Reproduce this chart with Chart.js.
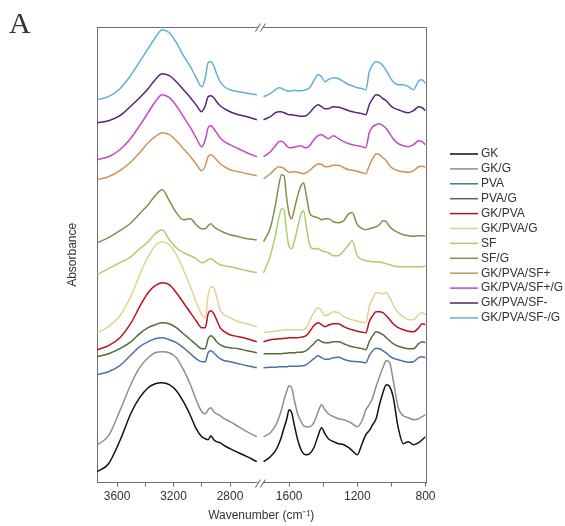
<!DOCTYPE html>
<html>
<head>
<meta charset="utf-8">
<script src="https://cdn.jsdelivr.net/npm/chart.js@4.4.1/dist/chart.umd.min.js"></script>
<style>
  html, body { margin: 0; padding: 0; background: #ffffff; }
  canvas { display: block; }
</style>
</head>
<body>
<canvas id="ftir" width="565" height="526"></canvas>
<script>
// Wavenumber grids (cm-1) for the two halves of the broken axis
const highWavenumbers = [3740, 3660, 3580, 3500, 3440, 3380, 3330, 3280, 3230, 3180, 3130, 3080, 3040, 3000, 2975, 2955, 2935, 2915, 2895, 2870, 2840, 2800, 2740, 2680, 2610];
const lowWavenumbers = [1750, 1710, 1680, 1660, 1645, 1630, 1615, 1600, 1585, 1570, 1550, 1530, 1515, 1500, 1480, 1455, 1430, 1410, 1390, 1370, 1340, 1310, 1280, 1250, 1230, 1200, 1170, 1150, 1130, 1110, 1090, 1070, 1050, 1030, 1010, 990, 960, 930, 900, 870, 840, 820, 800];

// Tick positions
const highTicks = [3600, 3400, 3200, 3000, 2800];
const lowTicks = [1600, 1400, 1200, 1000, 800];

// Sample names (legend order, bottom spectrum first)
const sampleNames = ['GK', 'GK/G', 'PVA', 'PVA/G', 'GK/PVA', 'GK/PVA/G', 'SF', 'SF/G', 'GK/PVA/SF+', 'GK/PVA/SF+/G', 'GK/PVA/SF-', 'GK/PVA/SF-/G'];

// Absorbance (offset-stacked, a.u.)
const gkHigh = [0.11,0.19,0.42,0.70,0.85,0.95,0.99,1.00,0.98,0.92,0.81,0.67,0.54,0.46,0.44,0.43,0.47,0.43,0.41,0.40,0.37,0.34,0.30,0.26,0.21];
const gkLow = [0.21,0.26,0.32,0.39,0.46,0.55,0.63,0.73,0.70,0.58,0.43,0.33,0.29,0.28,0.29,0.35,0.47,0.55,0.49,0.44,0.41,0.39,0.38,0.35,0.32,0.28,0.40,0.48,0.52,0.58,0.64,0.78,0.90,0.98,0.96,0.86,0.55,0.39,0.41,0.38,0.40,0.43,0.46];

const gkGHigh = [0.38,0.47,0.72,0.99,1.15,1.25,1.30,1.31,1.30,1.25,1.13,0.98,0.83,0.71,0.69,0.73,0.75,0.71,0.69,0.67,0.64,0.61,0.56,0.51,0.46];
const gkGLow = [0.46,0.50,0.57,0.65,0.73,0.83,0.91,0.97,0.95,0.83,0.69,0.61,0.57,0.56,0.56,0.60,0.71,0.78,0.73,0.69,0.66,0.64,0.63,0.61,0.59,0.56,0.63,0.73,0.78,0.85,0.96,1.06,1.15,1.22,1.20,1.03,0.75,0.67,0.65,0.63,0.64,0.66,0.68];

const pvaHigh = [1.08,1.11,1.17,1.28,1.36,1.41,1.44,1.45,1.43,1.40,1.35,1.29,1.24,1.21,1.21,1.30,1.32,1.30,1.27,1.24,1.22,1.21,1.19,1.17,1.15];
const pvaLow = [1.15,1.155,1.155,1.16,1.16,1.16,1.16,1.165,1.165,1.165,1.165,1.17,1.17,1.18,1.205,1.24,1.27,1.25,1.235,1.235,1.25,1.255,1.235,1.22,1.215,1.21,1.205,1.20,1.27,1.32,1.345,1.34,1.32,1.295,1.265,1.245,1.23,1.215,1.205,1.21,1.25,1.26,1.25];

const pvaGHigh = [1.26,1.29,1.34,1.41,1.49,1.55,1.58,1.60,1.59,1.55,1.49,1.43,1.38,1.34,1.34,1.44,1.47,1.45,1.41,1.38,1.36,1.35,1.34,1.32,1.30];
const pvaGLow = [1.29,1.29,1.29,1.29,1.29,1.295,1.295,1.30,1.30,1.30,1.305,1.305,1.31,1.32,1.35,1.39,1.43,1.41,1.40,1.40,1.41,1.41,1.39,1.37,1.36,1.35,1.34,1.33,1.41,1.47,1.51,1.50,1.48,1.45,1.42,1.39,1.365,1.35,1.34,1.34,1.39,1.41,1.40];

const gkPvaHigh = [1.33,1.37,1.45,1.60,1.76,1.90,1.97,2.00,1.98,1.90,1.80,1.70,1.62,1.55,1.55,1.69,1.72,1.69,1.63,1.55,1.51,1.48,1.46,1.44,1.41];
const gkPvaLow = [1.41,1.43,1.435,1.44,1.44,1.445,1.445,1.45,1.45,1.45,1.45,1.455,1.46,1.47,1.51,1.57,1.60,1.58,1.56,1.575,1.59,1.59,1.56,1.54,1.53,1.515,1.505,1.50,1.61,1.67,1.71,1.71,1.70,1.67,1.63,1.59,1.55,1.53,1.515,1.51,1.55,1.59,1.58];

const gkPvaGHigh = [1.50,1.56,1.67,1.87,2.08,2.26,2.37,2.41,2.38,2.28,2.13,1.96,1.81,1.68,1.65,1.87,1.96,1.95,1.86,1.73,1.68,1.65,1.61,1.59,1.56];
const gkPvaGLow = [1.50,1.51,1.515,1.52,1.525,1.53,1.53,1.53,1.53,1.53,1.53,1.53,1.53,1.55,1.62,1.70,1.75,1.72,1.67,1.68,1.71,1.70,1.66,1.64,1.63,1.615,1.605,1.60,1.76,1.84,1.90,1.90,1.89,1.90,1.85,1.78,1.70,1.66,1.63,1.63,1.68,1.70,1.68];

const sfHigh = [2.08,2.14,2.20,2.26,2.34,2.41,2.49,2.53,2.43,2.35,2.30,2.27,2.24,2.20,2.21,2.23,2.24,2.22,2.20,2.18,2.17,2.16,2.14,2.12,2.10];
const sfLow = [2.10,2.27,2.48,2.65,2.74,2.73,2.51,2.36,2.34,2.41,2.55,2.69,2.72,2.57,2.38,2.34,2.34,2.32,2.31,2.30,2.27,2.27,2.32,2.38,2.42,2.27,2.23,2.22,2.215,2.21,2.21,2.205,2.20,2.19,2.18,2.17,2.16,2.16,2.16,2.16,2.16,2.16,2.17];

const sfGHigh = [2.40,2.45,2.52,2.60,2.69,2.78,2.87,2.93,2.82,2.70,2.63,2.64,2.58,2.54,2.54,2.57,2.59,2.56,2.54,2.52,2.50,2.48,2.46,2.44,2.43];
const sfGLow = [2.41,2.55,2.78,2.98,3.08,3.07,2.85,2.69,2.64,2.73,2.87,2.97,3.00,2.88,2.70,2.66,2.65,2.63,2.64,2.64,2.61,2.60,2.62,2.69,2.70,2.58,2.54,2.53,2.54,2.55,2.56,2.58,2.62,2.61,2.56,2.53,2.50,2.48,2.47,2.465,2.47,2.47,2.47];

const sfPlusHigh = [3.03,3.06,3.12,3.21,3.30,3.40,3.46,3.50,3.48,3.42,3.34,3.26,3.19,3.12,3.17,3.26,3.28,3.26,3.23,3.19,3.16,3.13,3.11,3.09,3.07];
const sfPlusLow = [3.04,3.09,3.14,3.16,3.155,3.14,3.12,3.105,3.105,3.11,3.105,3.095,3.09,3.10,3.12,3.16,3.19,3.185,3.16,3.16,3.175,3.175,3.15,3.13,3.125,3.115,3.10,3.09,3.17,3.24,3.29,3.28,3.25,3.22,3.17,3.14,3.12,3.11,3.105,3.12,3.16,3.165,3.155];

const sfPlusGHigh = [3.23,3.26,3.33,3.45,3.57,3.70,3.81,3.88,3.85,3.77,3.66,3.55,3.45,3.36,3.43,3.55,3.57,3.54,3.50,3.45,3.41,3.38,3.34,3.30,3.26];
const sfPlusGLow = [3.26,3.31,3.37,3.41,3.415,3.40,3.37,3.35,3.35,3.355,3.365,3.37,3.355,3.35,3.37,3.43,3.47,3.48,3.46,3.44,3.47,3.44,3.41,3.39,3.38,3.37,3.36,3.35,3.50,3.56,3.58,3.59,3.57,3.54,3.49,3.44,3.39,3.37,3.36,3.38,3.42,3.41,3.38];

const sfMinusHigh = [3.60,3.62,3.67,3.77,3.85,3.94,4.03,4.09,4.07,4.01,3.93,3.85,3.78,3.71,3.77,3.86,3.87,3.85,3.81,3.77,3.74,3.71,3.68,3.66,3.63];
const sfMinusLow = [3.63,3.66,3.70,3.71,3.71,3.70,3.69,3.68,3.68,3.675,3.67,3.665,3.665,3.67,3.70,3.75,3.78,3.76,3.74,3.74,3.76,3.755,3.74,3.72,3.71,3.70,3.69,3.68,3.78,3.84,3.88,3.87,3.84,3.82,3.78,3.75,3.73,3.71,3.70,3.72,3.76,3.75,3.72];

const sfMinusGHigh = [3.83,3.86,3.94,4.08,4.21,4.34,4.45,4.53,4.50,4.40,4.27,4.16,4.05,3.96,4.05,4.20,4.21,4.17,4.09,4.01,3.96,3.93,3.91,3.895,3.88];
const sfMinusGLow = [3.86,3.89,3.93,3.95,3.945,3.93,3.92,3.915,3.92,3.925,3.92,3.92,3.925,3.93,3.95,4.02,4.08,4.06,4.01,4.03,4.05,4.04,4.01,3.98,3.97,3.95,3.94,3.93,4.11,4.18,4.21,4.20,4.17,4.12,4.06,4.01,3.98,3.98,3.96,3.93,4.02,4.03,3.99];

// Line colours, one per sample
const sampleColors = ['#111111', '#8e8e8e', '#4a72a8', '#4f6e3c', '#b8141e', '#e2d28c', '#a6d06c', '#8a8c4a', '#cc9458', '#c646c8', '#5a2078', '#62aed8'];

const highSeries = [gkHigh, gkGHigh, pvaHigh, pvaGHigh, gkPvaHigh, gkPvaGHigh, sfHigh, sfGHigh, sfPlusHigh, sfPlusGHigh, sfMinusHigh, sfMinusGHigh];
const lowSeries = [gkLow, gkGLow, pvaLow, pvaGLow, gkPvaLow, gkPvaGLow, sfLow, sfGLow, sfPlusLow, sfPlusGLow, sfMinusLow, sfMinusGLow];

const FONT = '"Liberation Sans", Arial, Helvetica, sans-serif';
Chart.defaults.font.family = FONT;
Chart.defaults.font.size = 12;
Chart.defaults.color = '#333333';

function pairs(xs, ys) {
  return xs.map((x, i) => ({ x: x, y: ys[i] }));
}

const datasets = [];
sampleNames.forEach((name, i) => {
  const common = {
    label: name,
    borderColor: sampleColors[i],
    backgroundColor: sampleColors[i],
    borderWidth: 1.5,
    pointRadius: 0,
    fill: false,
    cubicInterpolationMode: 'monotone',
    yAxisID: 'y'
  };
  datasets.push(Object.assign({}, common, { data: pairs(highWavenumbers, highSeries[i]), xAxisID: 'xHigh' }));
  datasets.push(Object.assign({}, common, { data: pairs(lowWavenumbers, lowSeries[i]), xAxisID: 'xLow' }));
});

const AXIS_COLOR = '#6e6e6e';

function xAxis(min, max, ticks, weight) {
  return {
    type: 'linear',
    position: 'bottom',
    stack: 'wavenumber',
    stackWeight: weight,
    reverse: true,
    min: min,
    max: max,
    afterBuildTicks: (scale) => { scale.ticks = ticks.map(v => ({ value: v })); },
    afterFit: (scale) => { scale.height = 20; },
    ticks: {
      autoSkip: false,
      maxRotation: 0,
      padding: 3,
      color: '#333333',
      font: { size: 12 },
      callback: (v) => (v % 400 === 0 ? String(v) : '')
    },
    grid: { display: true, drawOnChartArea: false, drawTicks: true, tickLength: 4, color: AXIS_COLOR },
    border: { display: true, color: AXIS_COLOR, width: 1 }
  };
}

// Frame, axis breaks, panel letter and legend
const decorations = {
  id: 'decorations',
  afterDraw(chart) {
    const ctx = chart.ctx;
    const area = chart.chartArea;
    const xh = chart.scales.xHigh;
    ctx.save();
    // top and right border of the plot frame
    ctx.strokeStyle = AXIS_COLOR;
    ctx.lineWidth = 1;
    ctx.beginPath();
    ctx.moveTo(Math.round(area.left) + 0.5, Math.round(area.top) + 0.5);
    ctx.lineTo(Math.round(area.right) + 0.5, Math.round(area.top) + 0.5);
    ctx.lineTo(Math.round(area.right) + 0.5, Math.round(area.bottom) + 0.5);
    ctx.stroke();

    // axis break marks
    const bx = xh.right;
    [Math.round(area.top) + 0.5, Math.round(area.bottom) + 0.5].forEach((by) => {
      ctx.fillStyle = '#ffffff';
      ctx.fillRect(bx - 3, by - 2, 6, 4);
      ctx.strokeStyle = '#555555';
      ctx.lineWidth = 1;
      ctx.beginPath();
      [-2.5, 2.5].forEach((dx) => {
        ctx.moveTo(bx + dx - 2.5, by + 4);
        ctx.lineTo(bx + dx + 2.5, by - 4);
      });
      ctx.stroke();
    });

    // panel letter
    ctx.fillStyle = '#333333';
    ctx.font = '30px "Liberation Serif", "DejaVu Serif", serif';
    ctx.textAlign = 'left';
    ctx.textBaseline = 'alphabetic';
    ctx.fillText('A', 9, 33);

    // legend
    ctx.font = '12px ' + FONT;
    ctx.textBaseline = 'middle';
    sampleNames.forEach((name, i) => {
      const y = 154 + i * 14.9;
      ctx.strokeStyle = sampleColors[i];
      ctx.lineWidth = 1.5;
      ctx.beginPath();
      ctx.moveTo(450, y);
      ctx.lineTo(478, y);
      ctx.stroke();
      ctx.fillStyle = '#333333';
      ctx.fillText(name, 481, y);
    });
    ctx.restore();
  }
};

new Chart(document.getElementById('ftir'), {
  type: 'line',
  data: { datasets: datasets },
  options: {
    responsive: false,
    animation: false,
    events: [],
    layout: { padding: { left: 0, top: 27, right: 139.5, bottom: 2.9 } },
    plugins: {
      legend: { display: false },
      tooltip: { enabled: false },
      title: {
        display: true,
        text: 'Wavenumber (cm\u207B\u00B9)',
        position: 'bottom',
        fullSize: false,
        align: 'center',
        color: '#333333',
        font: { size: 12, weight: 'normal' },
        padding: { top: 6, bottom: 0 }
      }
    },
    scales: {
      xHigh: xAxis(2584, 3742, highTicks, 163.5),
      xLow: xAxis(800, 1768, lowTicks, 165),
      y: {
        type: 'linear',
        position: 'left',
        min: 0,
        max: 4.557,
        afterFit: (scale) => { scale.width = 97; },
        ticks: { display: false },
        grid: { display: false },
        border: { display: true, color: AXIS_COLOR, width: 1 },
        title: {
          display: true,
          text: 'Absorbance',
          color: '#333333',
          font: { size: 12 },
          padding: { top: 65.8, bottom: 0 }
        }
      }
    }
  },
  plugins: [decorations]
});
</script>
</body>
</html>
